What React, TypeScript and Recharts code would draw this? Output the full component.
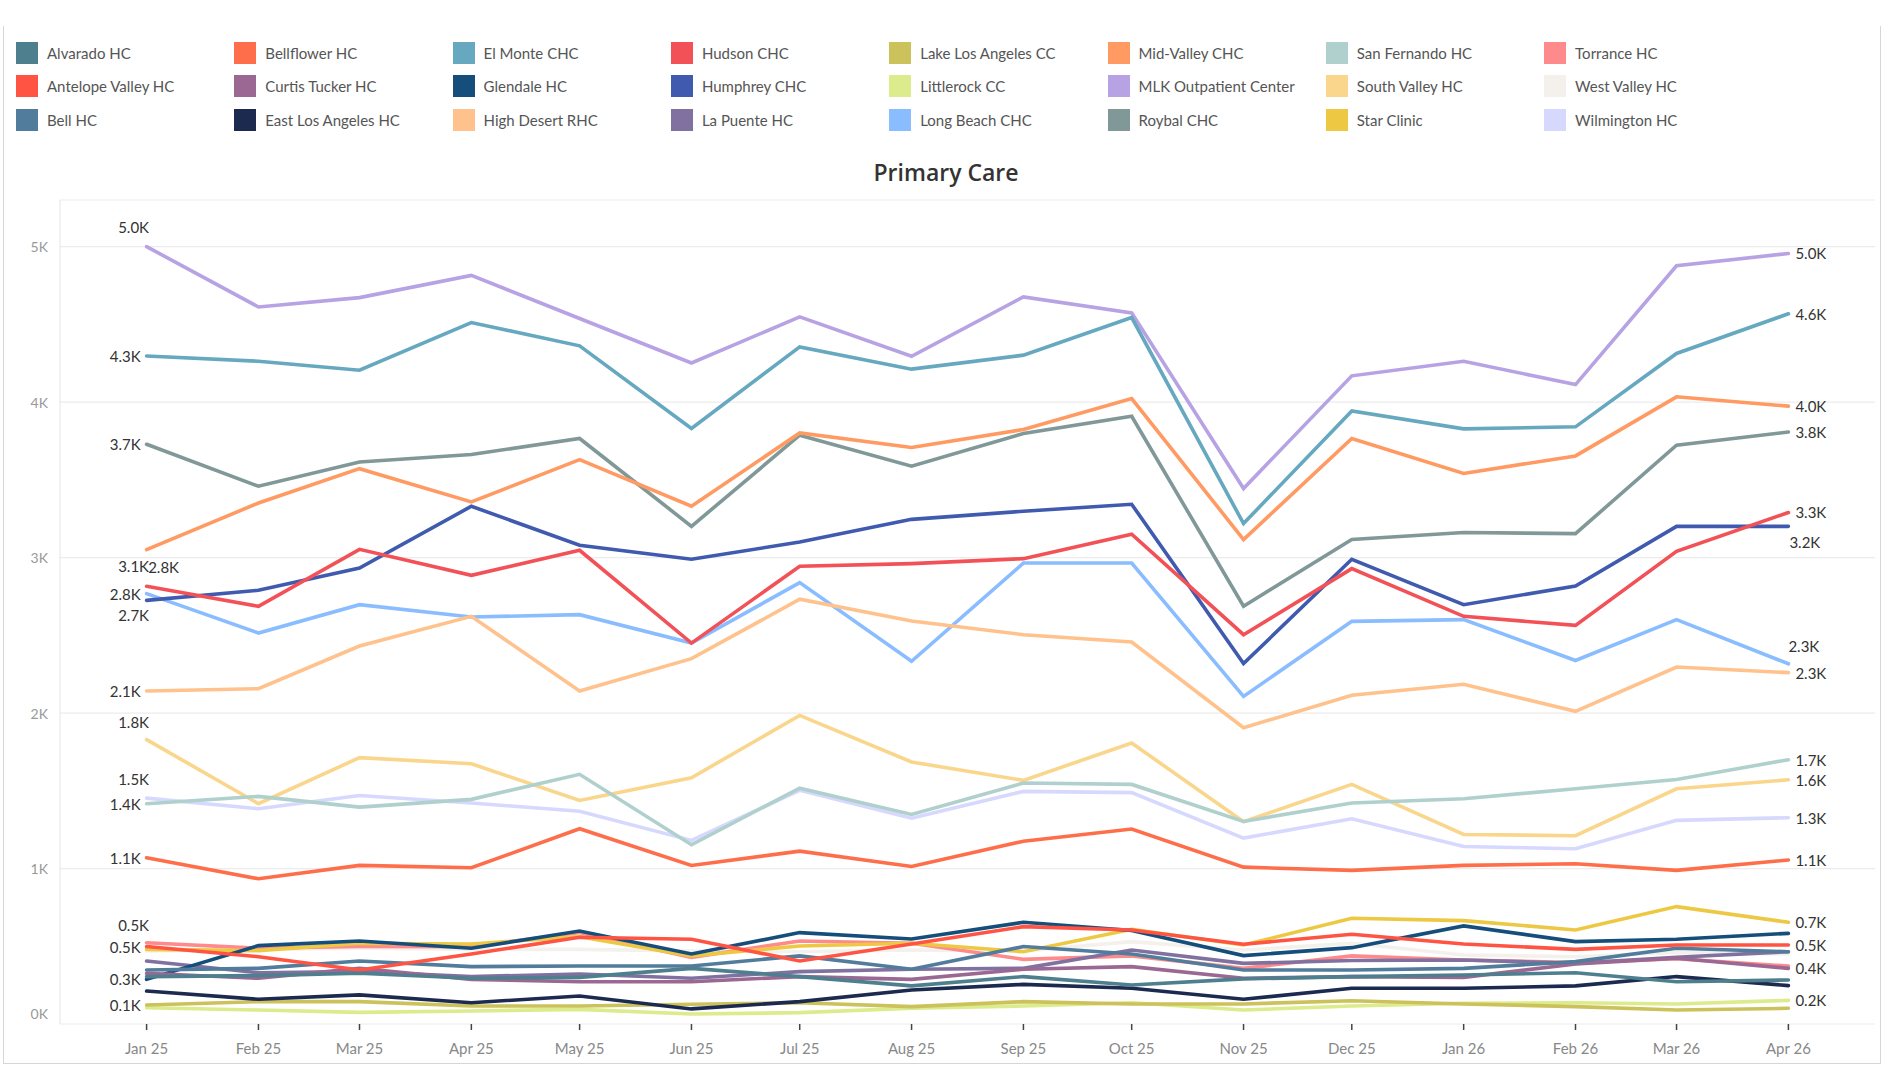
import React from 'react';
import { LineChart, Line, XAxis, YAxis, CartesianGrid } from 'recharts';

const monthStarts = [
  '2025-01-01', '2025-02-01', '2025-03-01', '2025-04-01', '2025-05-01', '2025-06-01',
  '2025-07-01', '2025-08-01', '2025-09-01', '2025-10-01', '2025-11-01', '2025-12-01',
  '2026-01-01', '2026-02-01', '2026-03-01', '2026-04-01',
];
const monthLabels = [
  'Jan 25', 'Feb 25', 'Mar 25', 'Apr 25', 'May 25', 'Jun 25', 'Jul 25', 'Aug 25',
  'Sep 25', 'Oct 25', 'Nov 25', 'Dec 25', 'Jan 26', 'Feb 26', 'Mar 26', 'Apr 26',
];
const yTicks = [0, 1000, 2000, 3000, 4000, 5000];
const yTickLabels = ['0K', '1K', '2K', '3K', '4K', '5K'];

const alvarado = [305, 311, 326, 294, 300, 358, 305, 245, 305, 251, 290, 305, 315, 330, 272, 283];
const antelopeValley = [498, 433, 347, 450, 558, 545, 405, 515, 626, 605, 513, 577, 515, 480, 508, 508];
const bell = [347, 358, 405, 369, 373, 373, 438, 352, 498, 450, 347, 347, 358, 401, 487, 465];
const bellflower = [1069, 934, 1020, 1005, 1256, 1020, 1112, 1013, 1176, 1254, 1009, 988, 1020, 1031, 988, 1055];
const curtisTucker = [326, 294, 358, 287, 272, 272, 305, 287, 352, 369, 294, 305, 300, 386, 423, 358];
const eastLosAngeles = [212, 159, 187, 137, 180, 97, 144, 219, 255, 230, 159, 230, 230, 245, 305, 247];
const elMonte = [4297, 4263, 4205, 4512, 4362, 3830, 4355, 4212, 4302, 4544, 3219, 3943, 3828, 3841, 4313, 4568];
const glendale = [287, 504, 534, 487, 598, 450, 588, 547, 654, 601, 440, 491, 631, 530, 545, 583];
const highDesert = [2142, 2157, 2431, 2622, 2142, 2350, 2732, 2592, 2504, 2457, 1906, 2114, 2185, 2011, 2296, 2260];
const hudson = [2815, 2687, 3053, 2886, 3047, 2450, 2944, 2961, 2993, 3150, 2504, 2929, 2622, 2564, 3040, 3290];
const humphrey = [2725, 2790, 2933, 3330, 3079, 2989, 3100, 3246, 3298, 3343, 2318, 2989, 2697, 2817, 3201, 3201];
const laPuente = [405, 330, 337, 305, 322, 294, 337, 352, 358, 476, 390, 408, 412, 390, 429, 465];
const lakeLosAngeles = [122, 144, 144, 116, 116, 127, 137, 112, 144, 129, 129, 150, 129, 112, 90, 101];
const littlerock = [105, 90, 75, 84, 94, 64, 73, 101, 116, 137, 90, 116, 133, 137, 129, 152];
const longBeach = [2768, 2515, 2697, 2618, 2633, 2450, 2839, 2333, 2965, 2965, 2107, 2590, 2601, 2338, 2601, 2317];
const midValley = [3051, 3351, 3572, 3358, 3630, 3330, 3802, 3708, 3824, 4023, 3116, 3766, 3541, 3654, 4034, 3974];
const mlk = [5000, 4612, 4672, 4815, 4538, 4252, 4548, 4295, 4677, 4574, 3444, 4169, 4263, 4113, 4877, 4956];
const roybal = [3729, 3459, 3615, 3663, 3766, 3201, 3787, 3588, 3798, 3909, 2687, 3116, 3161, 3154, 3723, 3808];
const sanFernando = [1417, 1464, 1395, 1445, 1606, 1153, 1517, 1348, 1550, 1541, 1303, 1421, 1449, 1513, 1573, 1700];
const southValley = [1829, 1417, 1713, 1674, 1438, 1584, 1985, 1685, 1567, 1807, 1301, 1541, 1219, 1211, 1513, 1571];
const starClinic = [480, 472, 519, 515, 562, 438, 502, 519, 465, 609, 508, 680, 665, 605, 755, 654];
const torrance = [523, 487, 498, 498, 588, 429, 534, 519, 416, 438, 358, 438, 412, 395, 420, 373];
const westValley = [470, 480, 487, 480, 480, 470, 465, 476, 470, 530, 476, 519, 444, 433, 460, 450];
const wilmington = [1453, 1385, 1470, 1421, 1369, 1181, 1503, 1324, 1496, 1488, 1196, 1320, 1142, 1127, 1310, 1327];

const series = [
  { name: 'Alvarado HC', values: alvarado },
  { name: 'Antelope Valley HC', values: antelopeValley },
  { name: 'Bell HC', values: bell },
  { name: 'Bellflower HC', values: bellflower },
  { name: 'Curtis Tucker HC', values: curtisTucker },
  { name: 'East Los Angeles HC', values: eastLosAngeles },
  { name: 'El Monte CHC', values: elMonte },
  { name: 'Glendale HC', values: glendale },
  { name: 'High Desert RHC', values: highDesert },
  { name: 'Hudson CHC', values: hudson },
  { name: 'Humphrey CHC', values: humphrey },
  { name: 'La Puente HC', values: laPuente },
  { name: 'Lake Los Angeles CC', values: lakeLosAngeles },
  { name: 'Littlerock CC', values: littlerock },
  { name: 'Long Beach CHC', values: longBeach },
  { name: 'Mid-Valley CHC', values: midValley },
  { name: 'MLK Outpatient Center', values: mlk },
  { name: 'Roybal CHC', values: roybal },
  { name: 'San Fernando HC', values: sanFernando },
  { name: 'South Valley HC', values: southValley },
  { name: 'Star Clinic', values: starClinic },
  { name: 'Torrance HC', values: torrance },
  { name: 'West Valley HC', values: westValley },
  { name: 'Wilmington HC', values: wilmington },
];

const colors: Record<string, string> = {
  'Alvarado HC': '#4E7F8E',
  'Antelope Valley HC': '#FF5443',
  'Bell HC': '#527C9C',
  'Bellflower HC': '#FF6E4A',
  'Curtis Tucker HC': '#9A6892',
  'East Los Angeles HC': '#1D2A4F',
  'El Monte CHC': '#66A8BF',
  'Glendale HC': '#164E7B',
  'High Desert RHC': '#FFC28C',
  'Hudson CHC': '#F25257',
  'Humphrey CHC': '#3F5AAE',
  'La Puente HC': '#8071A0',
  'Lake Los Angeles CC': '#CBC25B',
  'Littlerock CC': '#DCEB8B',
  'Long Beach CHC': '#8ABDFF',
  'Mid-Valley CHC': '#FF9A62',
  'MLK Outpatient Center': '#B7A3E3',
  'Roybal CHC': '#809897',
  'San Fernando HC': '#B0D0CD',
  'South Valley HC': '#F9D68C',
  'Star Clinic': '#EDC843',
  'Torrance HC': '#FF8A8B',
  'West Valley HC': '#F4F1EC',
  'Wilmington HC': '#D7D8FE',
};

type Place = [number, number, 'start' | 'middle' | 'end'];
const L: Place = [-6, 0, 'end'];
const R: Place = [7, 0, 'start'];
const labelPlacement: Record<string, { start?: Place; end?: Place }> = {
  'MLK Outpatient Center': { start: [-13, -20, 'middle'], end: R },
  'El Monte CHC': { start: L, end: R },
  'Roybal CHC': { start: L, end: R },
  'Mid-Valley CHC': { start: [-13, 16, 'middle'], end: R },
  'Hudson CHC': { start: [17, -19, 'middle'], end: R },
  'Long Beach CHC': { start: L, end: [0, -18, 'start'] },
  'Humphrey CHC': { start: [-13, 15, 'middle'], end: [1, 16, 'start'] },
  'High Desert RHC': { start: L, end: R },
  'South Valley HC': { start: [-13, -18, 'middle'], end: R },
  'Wilmington HC': { start: [-13, -19, 'middle'], end: R },
  'San Fernando HC': { start: L, end: R },
  'Bellflower HC': { start: L, end: R },
  'Torrance HC': { start: [-13, -18, 'middle'] },
  'Antelope Valley HC': { start: L, end: R },
  'Glendale HC': { start: L },
  'Lake Los Angeles CC': { start: L },
  'Star Clinic': { end: R },
  'Curtis Tucker HC': { end: R },
  'Littlerock CC': { end: R },
};

const DAY = 86400000;
const times = monthStarts.map((s) => Date.parse(s + 'T00:00:00Z'));
const data = times.map((t, i) => {
  const row: Record<string, number> = { t };
  series.forEach((s) => {
    row[s.name] = s.values[i];
  });
  return row;
});

const FONT = 'Lato, "Open Sans", sans-serif';

const makeDot = (name: string) => (props: any) => {
  const { cx, cy, index, payload } = props;
  const place = labelPlacement[name];
  const last = data.length - 1;
  let p: Place | undefined;
  if (index === 0) p = place?.start;
  else if (index === last) p = place?.end;
  if (!p || cx == null || cy == null) return <g key={`d-${name}-${index}`} />;
  const v = payload[name] as number;
  return (
    <text
      key={`d-${name}-${index}`}
      x={cx + p[0]}
      y={cy + p[1]}
      textAnchor={p[2]}
      dominantBaseline="central"
      fontSize={15}
      fill="#333"
      fontFamily={FONT}
    >
      {(v / 1000).toFixed(1)}K
    </text>
  );
};

const YTick = (props: any) => {
  const { x, y, payload } = props;
  const shift = payload.value === 0 ? -11 : 0;
  return (
    <text x={x - 4} y={y + shift} textAnchor="end" dominantBaseline="central" fill="#999" fontSize={14} fontFamily={FONT}>
      {yTickLabels[yTicks.indexOf(payload.value)]}
    </text>
  );
};

const XTick = (props: any) => {
  const { x, y, payload } = props;
  return (
    <text x={x} y={y + 10} textAnchor="middle" dominantBaseline="hanging" fill="#888" fontSize={15} fontFamily={FONT}>
      {monthLabels[times.indexOf(payload.value)]}
    </text>
  );
};

function Legend() {
  return (
    <>
      {series.map((s, i) => {
        const col = Math.floor(i / 3);
        const row = i % 3;
        return (
          <div
            key={s.name}
            style={{
              position: 'absolute',
              left: 16 + col * 218.3,
              top: 42 + row * 33.3,
              height: 22,
              display: 'flex',
              alignItems: 'center',
              fontFamily: FONT,
              fontSize: 15,
              color: '#555',
              whiteSpace: 'nowrap',
            }}
          >
            <div style={{ width: 22, height: 22, background: colors[s.name], marginRight: 9 }} />
            <span>{s.name}</span>
          </div>
        );
      })}
    </>
  );
}

export default function App() {
  const drawOrder = [...series].reverse();
  return (
    <div style={{ position: 'absolute', left: 0, top: 0, width: 1885, height: 1066, background: '#fff' }}>
      <div
        style={{
          position: 'absolute',
          left: 3,
          top: 26,
          width: 1876,
          height: 1037,
          borderLeft: '1px solid #d6d6d6',
          borderRight: '1px solid #d6d6d6',
          borderBottom: '1px solid #d6d6d6',
        }}
      />
      <Legend />
      <div
        style={{
          position: 'absolute',
          left: 0,
          width: 1892,
          top: 156,
          textAlign: 'center',
          fontFamily: '"Open Sans", Lato, sans-serif',
          fontWeight: 600,
          fontSize: 23,
          color: '#333',
        }}
      >
        Primary Care
      </div>
      <div style={{ position: 'absolute', left: 0, top: 0 }}>
        <LineChart width={1885} height={1066} data={data} margin={{ top: 200, right: 10, bottom: 0, left: 0 }}>
          <CartesianGrid vertical={false} stroke="#ececec" strokeWidth={1.2} />
          <XAxis
            dataKey="t"
            type="number"
            domain={[times[0] - 24 * DAY, times[times.length - 1] + 24 * DAY]}
            ticks={times}
            interval={0}
            height={42}
            axisLine={false}
            tickLine={{ stroke: '#444', strokeWidth: 1.5 }}
            tickSize={6}
            tick={<XTick />}
          />
          <YAxis
            type="number"
            domain={[0, 5300]}
            ticks={yTicks}
            interval={0}
            width={60}
            axisLine={{ stroke: '#e4e4e4' }}
            tickLine={false}
            tick={<YTick />}
          />
          {drawOrder.map((s) => (
            <Line
              key={s.name}
              type="linear"
              dataKey={s.name}
              stroke={colors[s.name]}
              strokeWidth={3.6}
              strokeLinecap="round"
              strokeLinejoin="miter"
              dot={makeDot(s.name)}
              activeDot={false}
              isAnimationActive={false}
            />
          ))}
        </LineChart>
      </div>
    </div>
  );
}
